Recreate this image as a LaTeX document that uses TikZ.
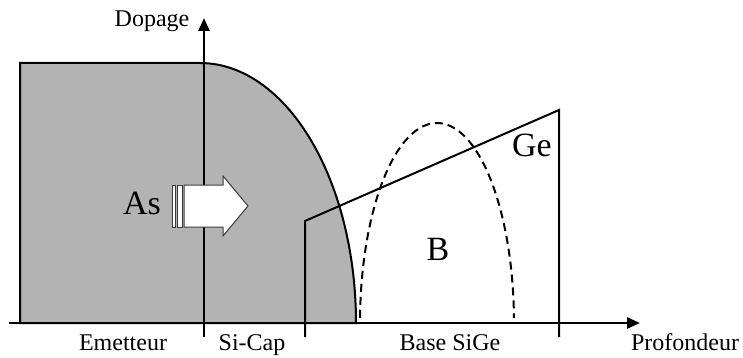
\documentclass[tikz,border=0pt]{standalone}
\usepackage{fontspec}
\setmainfont{Liberation Serif}
\usetikzlibrary{arrows.meta, positioning}
\definecolor{cfill}{HTML}{B3B3B3}
\definecolor{cedge}{HTML}{3A3A3A}
\tikzset{
  every picture/.style={x=1pt, y=-1pt, line width=2pt},
  axis/.style={-{Triangle[length=13pt, width=11pt]}, line width=2.6pt},
  tick/.style={line width=2pt},
  label/.style={font=\fontsize{24}{28}\selectfont, anchor=base, inner sep=0pt},
  biglabel/.style={font=\fontsize{34}{40}\selectfont, anchor=base, inner sep=0pt},
  profile/.style={line width=2pt},
  doping/.style={line width=2pt, dash pattern=on 8pt off 5pt},
  hollow/.style={draw=cedge, fill=white, line width=1pt},
}
\begin{document}
\begin{tikzpicture}
  \useasboundingbox (0,0) rectangle (743,358);
  % emitter (As) profile
  \draw[fill=cfill] (20,323) -- (20,63) -- plot[domain=0:90, samples=60] ({200+156*sin(\x)},{323-260*cos(\x)}) -- cycle;
  % axes
  \coordinate (xstart) at (9,323);
  \coordinate (xend) at (640,323);
  \coordinate (ystart) at (204,337);
  \coordinate (yend) at (204,18);
  \draw[axis] (xstart) -- (xend);
  \draw[axis] (ystart) -- (yend);
  % Ge profile
  \coordinate (ge1) at (305,337);
  \coordinate (ge2) at (305,221);
  \coordinate (ge3) at (559,110);
  \coordinate (ge4) at (559,337);
  \draw[profile] (ge1) -- (ge2) -- (ge3) -- (ge4);
  % B profile
  \draw[doping] plot[domain=-88.5:88.5, samples=80] ({437+77*sin(\x)},{323-200*cos(\x)});
  % implant arrow
  \draw[hollow] (172,185) rectangle (175,227);
  \draw[hollow] (177,185) rectangle (182,227);
  \draw[hollow] (184,185) -- (223,185) -- (223,176) -- (248,206) -- (223,236) -- (223,227) -- (184,227) -- cycle;
  % labels
  \node[label] (dop) at (152,27) {Dopage};
  \node[label] (emet) at (123,350) {Emetteur};
  \node[label] (cap) at (252,350) {Si-Cap};
  \node[label] (base) at (450,350) {Base SiGe};
  \node[label] (prof) at (685,350) {Profondeur};
  \node[biglabel] (as) at (142,214) {As};
  \node[biglabel] (bor) at (438,260) {B};
  \node[biglabel] (ge) at (532,157) {Ge};
\end{tikzpicture}
\end{document}
